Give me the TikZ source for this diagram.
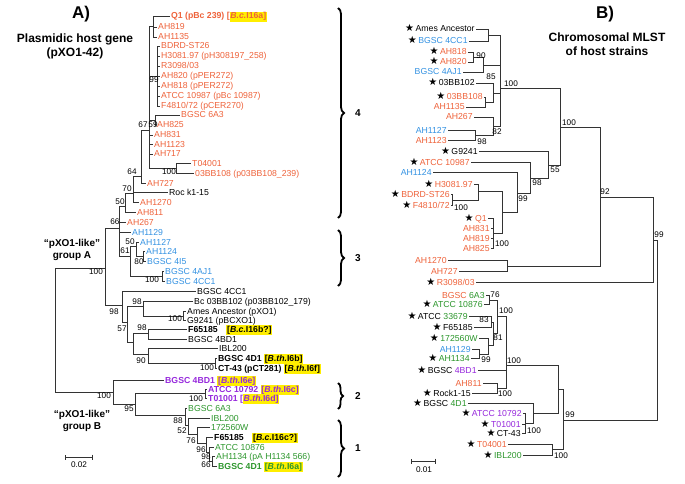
\documentclass[tikz,border=0pt]{standalone}
\usepackage{fontspec}
\setmainfont{Liberation Sans}
\newfontfamily\symf{DejaVu Sans}
\usetikzlibrary{arrows.meta,decorations.pathreplacing}

\definecolor{orA}{RGB}{238,98,58}
\definecolor{blA}{RGB}{52,146,226}
\definecolor{grA}{RGB}{44,150,44}
\definecolor{puA}{RGB}{150,40,220}
\definecolor{hly}{RGB}{255,238,0}

\newcommand{\lf}{\fontsize{8.7pt}{10pt}\selectfont}
\newcommand{\ylw}[1]{{\setlength{\fboxsep}{0.7pt}\colorbox{hly}{#1}}}
\newcommand{\strn}{{\symf\fontsize{10pt}{10pt}\selectfont\textcolor{black}{★}}\,}

\tikzset{
  br/.style={line width=0.55pt, draw=black!80},
  lA/.style={anchor=west, inner sep=1pt, font=\lf, text height=6pt, text depth=0pt},
  lB/.style={anchor=east, inner sep=1.2pt, font=\lf, text height=6pt, text depth=0pt},
  bs/.style={font=\fontsize{8.2pt}{9pt}\selectfont, inner sep=0pt},
  ttl/.style={font=\bfseries\fontsize{12pt}{14pt}\selectfont, align=center},
  grp/.style={font=\bfseries\fontsize{10pt}{12pt}\selectfont, align=center},
  brc/.style={decorate, decoration={brace, amplitude=6pt}, line width=1.8pt},
}

\begin{document}
\begin{tikzpicture}[x=1pt, y=-1pt]

    \useasboundingbox (0,0) rectangle (685,484);

    % タイトル
    \node[font=\bfseries\fontsize{17pt}{19pt}\selectfont] (tA) at (81,14) {A)};
    \node[ttl] (tA2) at (75,46) {Plasmidic host gene\\(pXO1-42)};
    \node[font=\bfseries\fontsize{17pt}{19pt}\selectfont] (tB) at (605,14) {B)};
    \node[ttl] (tB2) at (607,44) {Chromosomal MLST\\of host strains};

    % グループ名
    \node[grp] (gA) at (72,250) {“pXO1-like”\\group A};
    \node[grp] (gB) at (82,421) {“pXO1-like”\\group B};

    % ===== A) 葉ラベル =====
    \node[lA, orA, font=\lf\bfseries] (a01) at (170,16) {Q1 (pBc 239) [\ylw{\textit{B.c.}I16a]}};
    \node[lA, orA] (a02) at (157,27) {AH819};
    \node[lA, orA] (a03) at (157,37) {AH1135};
    \node[lA, orA] (a04) at (160,46) {BDRD-ST26};
    \node[lA, orA] (a05) at (160,56) {H3081.97 (pH308197\_258)};
    \node[lA, orA] (a06) at (160,66) {R3098/03};
    \node[lA, orA] (a07) at (160,76) {AH820 (pPER272)};
    \node[lA, orA] (a08) at (160,86) {AH818 (pPER272)};
    \node[lA, orA] (a09) at (160,96) {ATCC 10987 (pBc 10987)};
    \node[lA, orA] (a10) at (160,106) {F4810/72 (pCER270)};
    \node[lA, orA] (a11) at (180,115) {BGSC 6A3};
    \node[lA, orA] (a12) at (156,125) {AH825};
    \node[lA, orA] (a13) at (153,135) {AH831};
    \node[lA, orA] (a14) at (153,144) {AH1123};
    \node[lA, orA] (a15) at (153,154) {AH717};
    \node[lA, orA] (a16) at (191,163) {T04001};
    \node[lA, orA] (a17) at (194,173) {03BB108 (p03BB108\_239)};
    \node[lA, orA] (a18) at (146,183) {AH727};
    \node[lA] (a19) at (168,192) {Roc k1-15};
    \node[lA, orA] (a20) at (139,202) {AH1270};
    \node[lA, orA] (a21) at (136,212) {AH811};
    \node[lA, orA] (a22) at (126,222) {AH267};
    \node[lA, blA] (a23) at (131,232) {AH1129};
    \node[lA, blA] (a24) at (139,242) {AH1127};
    \node[lA, blA] (a25) at (145,251) {AH1124};
    \node[lA, blA] (a26) at (146,261) {BGSC 4I5};
    \node[lA, blA] (a27) at (164,271) {BGSC 4AJ1};
    \node[lA, blA] (a28) at (165,281) {BGSC 4CC1};
    \node[lA] (a29) at (196,291) {BGSC 4CC1};
    \node[lA] (a30) at (193,301) {Bc 03BB102 (p03BB102\_179)};
    \node[lA] (a31) at (186,311) {Ames Ancestor (pXO1)};
    \node[lA] (a32) at (186,320) {G9241 (pBCXO1)};
    \node[lA, font=\lf\bfseries] (a33) at (187,329) {F65185\quad\ylw{[\textit{B.c.}I16b?]}};
    \node[lA] (a34) at (187,339) {BGSC 4BD1};
    \node[lA] (a35) at (218,348) {IBL200};
    \node[lA, font=\lf\bfseries] (a36) at (217,358) {BGSC 4D1 \ylw{[\textit{B.th.}I6b]}};
    \node[lA, font=\lf\bfseries] (a37) at (217,368) {CT-43 (pCT281) \ylw{[\textit{B.th.}I6f]}};
    \node[lA, puA, font=\lf\bfseries] (a38) at (164,380) {BGSC 4BD1 \ylw{[\textit{B.th.}I6e]}};
    \node[lA, puA, font=\lf\bfseries] (a39) at (207,389) {ATCC 10792 \ylw{[\textit{B.th.}I6c]}};
    \node[lA, puA, font=\lf\bfseries] (a40) at (207,398) {T01001 [\ylw{\textit{B.th.}I6d]}};
    \node[lA, grA] (a41) at (187,408) {BGSC 6A3};
    \node[lA, grA] (a42) at (210,418) {IBL200};
    \node[lA, grA] (a43) at (210,427) {172560W};
    \node[lA, font=\lf\bfseries] (a44) at (213,437) {F65185\quad\ylw{[\textit{B.c.}I16c?]}};
    \node[lA, grA] (a45) at (214,447) {ATCC 10876};
    \node[lA, grA] (a46) at (215,456) {AH1134 (pA H1134 566)};
    \node[lA, grA, font=\lf\bfseries] (a47) at (217,466) {BGSC 4D1 \ylw{[\textit{B.th.}I6a]}};

    % ===== A) 内部節点 =====
    \coordinate (nQ) at (153,26);
    \coordinate (n99) at (157,76);
    \coordinate (n59) at (155,120);
    \coordinate (nT) at (176,168);
    \coordinate (n67) at (149,130);
    \coordinate (n64) at (141,176);
    \coordinate (n70) at (133,193);
    \coordinate (n50) at (125,206);
    \coordinate (n66) at (119,228);
    \coordinate (n61) at (130,256);
    \coordinate (n50b) at (136,246);
    \coordinate (n80) at (143,256);
    \coordinate (nC) at (162,276);
    \coordinate (GA) at (105,268);
    \coordinate (n98a) at (122,305);
    \coordinate (n57) at (127,322);
    \coordinate (n98b) at (143,306);
    \coordinate (nD) at (183,316);
    \coordinate (ny) at (133,342);
    \coordinate (n98c) at (148,333);
    \coordinate (n90) at (148,354);
    \coordinate (nE) at (215,363);
    \coordinate (GB) at (113,392);
    \coordinate (n95) at (135,404);
    \coordinate (nF) at (205,393);
    \coordinate (n88) at (185,415);
    \coordinate (n52) at (188,425);
    \coordinate (n76) at (197,434);
    \coordinate (n96) at (206,443);
    \coordinate (n98e) at (209,452);
    \coordinate (n66b) at (212,461);
    \coordinate (rA) at (55,330);

    % ===== A) 枝 =====
    \draw[br] (nQ) |- (a01.west) (nQ) |- (a02.west) (nQ) |- (a03.west);
    \draw[br] (n99) |- (a04.west) (n99) |- (a05.west) (n99) |- (a06.west)
              (n99) |- (a07.west) (n99) |- (a08.west) (n99) |- (a09.west)
              (n99) |- (a10.west);
    \draw[br] (n59) |- (a11.west) (n59) |- (a12.west);
    \draw[br] (nT) |- (a16.west) (nT) |- (a17.west);
    \draw[br] (n67) |- (nQ) (n67) |- (n99) (n67) |- (n59) (n67) |- (a13.west)
              (n67) |- (a14.west) (n67) |- (a15.west) (n67) |- (nT);
    \draw[br] (n64) |- (n67) (n64) |- (a18.west);
    \draw[br] (n70) |- (n64) (n70) |- (a19.west) (n70) |- (a20.west);
    \draw[br] (n50) |- (n70) (n50) |- (a21.west);
    \draw[br] (n66) |- (n50) (n66) |- (a22.west) (n66) |- (a23.west) (n66) |- (n61);
    \draw[br] (n61) |- (n50b) (n61) |- (nC);
    \draw[br] (n50b) |- (a24.west) (n50b) |- (n80);
    \draw[br] (n80) |- (a25.west) (n80) |- (a26.west);
    \draw[br] (nC) |- (a27.west) (nC) |- (a28.west);
    \draw[br] (GA) |- (n66) (GA) |- (n98a);
    \draw[br] (n98a) |- (a29.west) (n98a) |- (n57);
    \draw[br] (n57) |- (n98b) (n57) |- (ny);
    \draw[br] (n98b) |- (a30.west) (n98b) |- (nD);
    \draw[br] (nD) |- (a31.west) (nD) |- (a32.west);
    \draw[br] (ny) |- (n98c) (ny) |- (n90);
    \draw[br] (n98c) |- (a33.west) (n98c) |- (a34.west);
    \draw[br] (n90) |- (a35.west) (n90) |- (nE);
    \draw[br] (nE) |- (a36.west) (nE) |- (a37.west);
    \draw[br] (GB) |- (a38.west) (GB) |- (n95);
    \draw[br] (n95) |- (nF) (n95) |- (n88);
    \draw[br] (nF) |- (a39.west) (nF) |- (a40.west);
    \draw[br] (n88) |- (a41.west) (n88) |- (n52);
    \draw[br] (n52) |- (a42.west) (n52) |- (n76);
    \draw[br] (n76) |- (a43.west) (n76) |- (n96);
    \draw[br] (n96) |- (a44.west) (n96) |- (n98e);
    \draw[br] (n98e) |- (a45.west) (n98e) |- (n66b);
    \draw[br] (n66b) |- (a46.west) (n66b) |- (a47.west);
    \draw[br] (rA) |- (GA) (rA) |- (GB);

    % ===== A) ブートストラップ値 =====
    \node[bs] (bA1) at (154,80) {99};
    \node[bs] (bA2) at (143,125) {67};
    \node[bs] (bA3) at (153,125) {59};
    \node[bs] (bA4) at (169,172) {100};
    \node[bs] (bA5) at (132,172) {64};
    \node[bs] (bA6) at (127,189) {70};
    \node[bs] (bA7) at (120,202) {50};
    \node[bs] (bA8) at (115,222) {66};
    \node[bs] (bA9) at (130,242) {50};
    \node[bs] (bA10) at (125,251) {61};
    \node[bs] (bA11) at (139,262) {80};
    \node[bs] (bA12) at (152,280) {100};
    \node[bs] (bA13) at (96,272) {100};
    \node[bs] (bA14) at (114,312) {98};
    \node[bs] (bA15) at (137,302) {98};
    \node[bs] (bA16) at (175,319) {100};
    \node[bs] (bA17) at (122,329) {57};
    \node[bs] (bA18) at (142,328) {98};
    \node[bs] (bA19) at (141,361) {90};
    \node[bs] (bA20) at (207,368) {100};
    \node[bs] (bA21) at (104,396) {100};
    \node[bs] (bA22) at (129,409) {95};
    \node[bs] (bA23) at (196,399) {100};
    \node[bs] (bA24) at (178,421) {88};
    \node[bs] (bA25) at (182,431) {52};
    \node[bs] (bA26) at (191,441) {76};
    \node[bs] (bA27) at (201,450) {96};
    \node[bs] (bA28) at (206,457) {98};
    \node[bs] (bA29) at (206,465) {66};

    % スケール
    \coordinate (sA1) at (65,457);
    \coordinate (sA2) at (93,457);
    \draw[br, {Bar[width=5pt]}-{Bar[width=5pt]}] (sA1) -- (sA2);
    \node[bs] (scA) at (79,465) {0.02};

    % 括弧
    \coordinate (k4a) at (338,8);   \coordinate (k4b) at (338,218);
    \coordinate (k3a) at (338,230); \coordinate (k3b) at (338,286);
    \coordinate (k2a) at (338,383); \coordinate (k2b) at (338,409);
    \coordinate (k1a) at (338,420); \coordinate (k1b) at (338,477);
    \draw[brc] (k4a) -- (k4b);
    \draw[brc] (k3a) -- (k3b);
    \draw[brc, decoration={amplitude=5pt}] (k2a) -- (k2b);
    \draw[brc] (k1a) -- (k1b);
    \node[grp] (c4) at (358,113) {4};
    \node[grp] (c3) at (358,258) {3};
    \node[grp] (c2) at (358,396) {2};
    \node[grp] (c1) at (358,448) {1};

    % ===== B) 葉ラベル =====
    \node[lB] (b01) at (476,29) {\strn Ames Ancestor};
    \node[lB, blA] (b02) at (469,41) {\strn BGSC 4CC1};
    \node[lB, orA] (b03) at (468,52) {\strn AH818};
    \node[lB, orA] (b04) at (468,62) {\strn AH820};
    \node[lB, blA] (b05) at (463,72) {BGSC 4AJ1};
    \node[lB] (b06) at (476,83) {\strn 03BB102};
    \node[lB, orA] (b07) at (484,97) {\strn 03BB108};
    \node[lB, orA] (b08) at (466,107) {AH1135};
    \node[lB, orA] (b09) at (474,117) {AH267};
    \node[lB, blA] (b10) at (448,130) {AH1127};
    \node[lB, orA] (b11) at (448,140) {AH1123};
    \node[lB] (b12) at (479,151) {\strn G9241};
    \node[lB, orA] (b13) at (471,162) {\strn ATCC 10987};
    \node[lB, blA] (b14) at (433,172) {AH1124};
    \node[lB, orA] (b15) at (474,184) {\strn H3081.97};
    \node[lB, orA] (b16) at (451,194) {\strn BDRD-ST26};
    \node[lB, orA] (b17) at (451,205) {\strn F4810/72};
    \node[lB, orA] (b18) at (488,218) {\strn Q1};
    \node[lB, orA] (b19) at (491,228) {AH831};
    \node[lB, orA] (b20) at (491,238) {AH819};
    \node[lB, orA] (b21) at (491,248) {AH825};
    \node[lB, orA] (b22) at (448,260) {AH1270};
    \node[lB, orA] (b23) at (459,271) {AH727};
    \node[lB, orA] (b24) at (476,282) {\strn R3098/03};
    \node[lB] (b25) at (486,295) {\textcolor{orA}{BGSC} \textcolor{grA}{6A3}};
    \node[lB, grA] (b26) at (484,304) {\strn ATCC 10876};
    \node[lB] (b27) at (469,316) {\strn ATCC \textcolor{grA}{33679}};
    \node[lB] (b28) at (474,327) {\strn F65185};
    \node[lB, grA] (b29) at (479,338) {\strn 172560W};
    \node[lB, blA] (b30) at (472,349) {AH1129};
    \node[lB, grA] (b31) at (471,358) {\strn AH1134};
    \node[lB] (b32) at (478,370) {\strn BGSC \textcolor{puA}{4BD1}};
    \node[lB, orA] (b33) at (483,383) {AH811};
    \node[lB] (b34) at (472,393) {\strn Rock1-15};
    \node[lB] (b35) at (468,403) {\strn BGSC \textcolor{grA}{4D1}};
    \node[lB, puA] (b36) at (523,413) {\strn ATCC 10792};
    \node[lB, puA] (b37) at (522,424) {\strn T01001};
    \node[lB] (b38) at (522,433) {\strn CT-43};
    \node[lB, orA] (b39) at (508,444) {\strn T04001};
    \node[lB, grA] (b40) at (523,455) {\strn IBL200};

    % ===== B) 内部節点 =====
    \coordinate (mAa) at (488,35);
    \coordinate (m90) at (473,57);
    \coordinate (m85) at (483,65);
    \coordinate (m03) at (485,102);
    \coordinate (m0x) at (493,93);
    \coordinate (m98a) at (475,135);
    \coordinate (m82) at (493,126);
    \coordinate (m100a) at (500,88);
    \coordinate (mBF) at (452,200);
    \coordinate (mHB) at (478,191);
    \coordinate (mQ1) at (493,233);
    \coordinate (mHQ) at (502,212);
    \coordinate (m99a) at (517,193);
    \coordinate (m98b) at (530,178);
    \coordinate (m55) at (548,165);
    \coordinate (m100b) at (560,127);
    \coordinate (mAH) at (507,266);
    \coordinate (m92) at (600,197);
    \coordinate (m99R) at (653,240);
    \coordinate (m76) at (489,300);
    \coordinate (m83) at (491,322);
    \coordinate (m99c) at (479,354);
    \coordinate (m87) at (488,345);
    \coordinate (m81) at (493,333);
    \coordinate (m100u) at (497,316);
    \coordinate (mAR) at (497,388);
    \coordinate (m100L) at (506,365);
    \coordinate (mTC) at (525,423);
    \coordinate (m4D) at (533,413);
    \coordinate (mM) at (558,389);
    \coordinate (mTI) at (552,449);
    \coordinate (m99L) at (563,420);
    \coordinate (rB) at (657,330);

    % ===== B) 枝 =====
    \draw[br] (mAa) |- (b01.east) (mAa) |- (b02.east);
    \draw[br] (m90) |- (b03.east) (m90) |- (b04.east);
    \draw[br] (m85) |- (m90) (m85) |- (b05.east);
    \draw[br] (m03) |- (b07.east) (m03) |- (b08.east);
    \draw[br] (m0x) |- (b06.east) (m0x) |- (m03);
    \draw[br] (m98a) |- (b10.east) (m98a) |- (b11.east);
    \draw[br] (m82) |- (b09.east) (m82) |- (m98a);
    \draw[br] (m100a) |- (mAa) (m100a) |- (m85) (m100a) |- (m0x) (m100a) |- (m82);
    \draw[br] (mBF) |- (b16.east) (mBF) |- (b17.east);
    \draw[br] (mHB) |- (b15.east) (mHB) |- (mBF);
    \draw[br] (mQ1) |- (b18.east) (mQ1) |- (b19.east) (mQ1) |- (b20.east) (mQ1) |- (b21.east);
    \draw[br] (mHQ) |- (mHB) (mHQ) |- (mQ1);
    \draw[br] (m99a) |- (b14.east) (m99a) |- (mHQ);
    \draw[br] (m98b) |- (b13.east) (m98b) |- (m99a);
    \draw[br] (m55) |- (b12.east) (m55) |- (m98b);
    \draw[br] (m100b) |- (m100a) (m100b) |- (m55);
    \draw[br] (mAH) |- (b22.east) (mAH) |- (b23.east);
    \draw[br] (m92) |- (m100b) (m92) |- (mAH);
    \draw[br] (m99R) |- (m92) (m99R) |- (b24.east);
    \draw[br] (m76) |- (b25.east) (m76) |- (b26.east);
    \draw[br] (m83) |- (b27.east) (m83) |- (b28.east);
    \draw[br] (m99c) |- (b30.east) (m99c) |- (b31.east);
    \draw[br] (m87) |- (b29.east) (m87) |- (m99c);
    \draw[br] (m81) |- (m83) (m81) |- (m87);
    \draw[br] (m100u) |- (m76) (m100u) |- (m81);
    \draw[br] (mAR) |- (b33.east) (mAR) |- (b34.east);
    \draw[br] (m100L) |- (m100u) (m100L) |- (b32.east) (m100L) |- (mAR);
    \draw[br] (mTC) |- (b36.east) (mTC) |- (b37.east) (mTC) |- (b38.east);
    \draw[br] (m4D) |- (b35.east) (m4D) |- (mTC);
    \draw[br] (mM) |- (m100L) (mM) |- (m4D);
    \draw[br] (mTI) |- (b39.east) (mTI) |- (b40.east);
    \draw[br] (m99L) |- (mM) (m99L) |- (mTI);
    \draw[br] (rB) |- (m99R) (rB) |- (m99L);

    % ===== B) ブートストラップ値 =====
    \node[bs] (bB1) at (481,56) {90};
    \node[bs] (bB2) at (491,77) {85};
    \node[bs] (bB3) at (482,142) {98};
    \node[bs] (bB4) at (497,132) {82};
    \node[bs] (bB5) at (511,84) {100};
    \node[bs] (bB6) at (461,208) {100};
    \node[bs] (bB7) at (502,244) {100};
    \node[bs] (bB8) at (523,199) {99};
    \node[bs] (bB9) at (537,183) {98};
    \node[bs] (bB10) at (555,170) {55};
    \node[bs] (bB11) at (569,123) {100};
    \node[bs] (bB12) at (605,192) {92};
    \node[bs] (bB13) at (659,235) {99};
    \node[bs] (bB14) at (495,295) {76};
    \node[bs] (bB15) at (484,320) {83};
    \node[bs] (bB16) at (486,360) {99};
    \node[bs] (bB17) at (498,338) {81};
    \node[bs] (bB18) at (506,311) {100};
    \node[bs] (bB19) at (505,394) {100};
    \node[bs] (bB20) at (514,361) {100};
    \node[bs] (bB21) at (534,431) {100};
    \node[bs] (bB22) at (561,456) {100};
    \node[bs] (bB23) at (570,415) {99};

    % スケール
    \coordinate (sB1) at (411,461);
    \coordinate (sB2) at (436,461);
    \draw[br, {Bar[width=5pt]}-{Bar[width=5pt]}] (sB1) -- (sB2);
    \node[bs] (scB) at (424,470) {0.01};

\end{tikzpicture}
\end{document}
